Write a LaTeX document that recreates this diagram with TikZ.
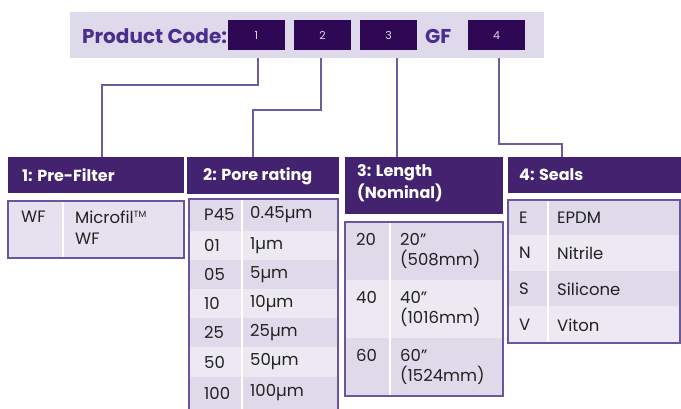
\documentclass[tikz,border=0pt]{standalone}
\usepackage{fontspec}
\setmainfont{Poppins}
\definecolor{barbg}{HTML}{DEDAEB}
\definecolor{codebox}{HTML}{2E0854}
\definecolor{codetxt}{HTML}{4A2D8C}
\definecolor{hdrc}{HTML}{43236F}
\definecolor{linec}{HTML}{6F5BA0}
\definecolor{bord}{HTML}{6B559E}
\definecolor{rowd}{HTML}{DFDAEA}
\definecolor{rowl}{HTML}{ECE9F3}
\definecolor{bodyc}{HTML}{E6E1EF}
\definecolor{txt}{HTML}{222222}
\begin{document}
\begin{tikzpicture}[x=1pt,y={(0pt,-1pt)},
  box/.style={inner sep=0pt, outer sep=0pt, anchor=north west},
  codeb/.style={box, fill=codebox, minimum height=30.5pt, minimum width=57pt},
  digit/.style={text=barbg, font=\fontsize{11}{13}\selectfont},
  hdr/.style={box, fill=hdrc},
  htxt/.style={anchor=west, inner sep=0pt, text=white, font=\fontsize{16}{20}\selectfont\bfseries},
  conn/.style={draw=linec, line width=1.6pt},
  cell/.style={anchor=west, inner sep=0pt, text=txt, font=\fontsize{16.5}{20}\selectfont},
  cell2/.style={anchor=north west, inner sep=0pt, text=txt, align=left, font=\fontsize{16.5}{20.5}\selectfont},
  tbl/.style={draw=bord, line width=1.2pt},
  divl/.style={draw=white, line width=1.6pt}
]
\useasboundingbox (0,0) rectangle (681,409);
% top bar
\node[box, fill=barbg, minimum width=474pt, minimum height=46pt] (bar) at (70,12) {};
\node[anchor=west, inner sep=0pt, text=codetxt, font=\fontsize{20}{24}\selectfont\bfseries] (pc) at (82,36) {Product Code:};
\node[codeb] (b1) at (228,20) {};
\node[codeb] (b2) at (294,20) {};
\node[codeb] (b3) at (360,20) {};
\node[codeb] (b4) at (468,20) {};
\node[digit] (d1) at (b1.center) {1};
\node[digit] (d2) at (b2.center) {2};
\node[digit] (d3) at (b3.center) {3};
\node[digit] (d4) at (b4.center) {4};
\node[anchor=west, inner sep=0pt, text=codetxt, font=\fontsize{20}{24}\selectfont\bfseries] (gf) at (425,36) {GF};
% headers
\node[hdr, minimum width=176pt, minimum height=36pt] (h1) at (8,157) {};
\node[hdr, minimum width=152pt, minimum height=37pt] (h2) at (187,157) {};
\node[hdr, minimum width=158pt, minimum height=57pt] (h3) at (345,157) {};
\node[hdr, minimum width=173pt, minimum height=36pt] (h4) at (508,157) {};
\node[htxt] (t1) at (22,175) {1: Pre-Filter};
\node[htxt] (t2) at (203,176) {2: Pore rating};
\node[htxt, anchor=north west, align=left, font=\fontsize{16}{22}\selectfont\bfseries] (t3) at (357,164) {3: Length\\(Nominal)};
\node[htxt] (t4) at (519,175) {4: Seals};
% connectors
\coordinate (k1) at (102,85);
\coordinate (k2) at (253,110);
\coordinate (k3) at (397,58);
\coordinate (k4) at (562,144);
\draw[conn] (bar.south -| 258,0) |- (k1) -- (k1 |- h1.north);
\draw[conn] (bar.south -| 321,0) |- (k2) -- (k2 |- h2.north);
\draw[conn] (k3) -- (k3 |- h3.north);
\draw[conn] (bar.south -| 499,0) |- (k4) -- (k4 |- h4.north);
% table 1
\node[box, fill=bodyc, minimum width=176pt, minimum height=57pt] (tb1) at (8,201) {};
\draw[divl] (63,201) -- (63,258);
\draw[tbl] (tb1.north west) rectangle (tb1.south east);
\node[cell2] (c11) at (21,211) {WF};
\node[cell2] (c12) at (75,211) {Microfil\textsuperscript{\fontsize{9}{9}\selectfont TM}\\WF};
% table 2
\foreach \i/\ya/\yb/\c in {1/199/231/rowd,2/231/260/rowl,3/260/289/rowd,4/289/318/rowl,5/318/347/rowd,6/347/377/rowl,7/377/412/rowd}{
  \path[fill=\c] (189,\ya) rectangle (338,\yb);
}
\node[box, minimum width=149pt, minimum height=213pt] (tb2) at (189,199) {};
\draw[divl] (242,199) -- (242,412);
\draw[tbl] (189,412) -- (189,199) -- (338,199) -- (338,412);
\foreach \n/\y/\a/\b in {1/215/P45/0.45µm,2/245.5/01/1µm,3/274.5/05/5µm,4/303.5/10/10µm,5/332.5/25/25µm,6/362/50/50µm,7/393/100/100µm}{
  \node[cell] (p\n a) at (204,\y) {\a};
  \node[cell] (p\n b) at (250,\y) {\b};
}
% table 3
\path[fill=rowd] (345,222) rectangle (503,280);
\path[fill=rowl] (345,280) rectangle (503,338);
\path[fill=rowd] (345,338) rectangle (503,396);
\node[box, minimum width=158pt, minimum height=174pt] (tb3) at (345,222) {};
\draw[divl] (390,222) -- (390,396);
\draw[tbl] (tb3.north west) rectangle (tb3.south east);
\node[cell2] (l1a) at (356,233) {20};
\node[cell2] (l1b) at (400,233) {20''\\(508mm)};
\node[cell2] (l2a) at (356,291) {40};
\node[cell2] (l2b) at (400,291) {40''\\(1016mm)};
\node[cell2] (l3a) at (356,349) {60};
\node[cell2] (l3b) at (400,349) {60''\\(1524mm)};
% table 4
\path[fill=rowd] (508,200) rectangle (680,235);
\path[fill=rowl] (508,235) rectangle (680,271);
\path[fill=rowd] (508,271) rectangle (680,306);
\path[fill=rowl] (508,306) rectangle (680,343);
\node[box, minimum width=172pt, minimum height=143pt] (tb4) at (508,200) {};
\draw[divl] (548,200) -- (548,343);
\draw[tbl] (tb4.north west) rectangle (tb4.south east);
\foreach \n/\y/\a/\b in {1/218/E/EPDM,2/253/N/Nitrile,3/289/S/Silicone,4/325/V/Viton}{
  \node[cell] (s\n a) at (519,\y) {\a};
  \node[cell] (s\n b) at (557,\y) {\b};
}
\end{tikzpicture}
\end{document}
